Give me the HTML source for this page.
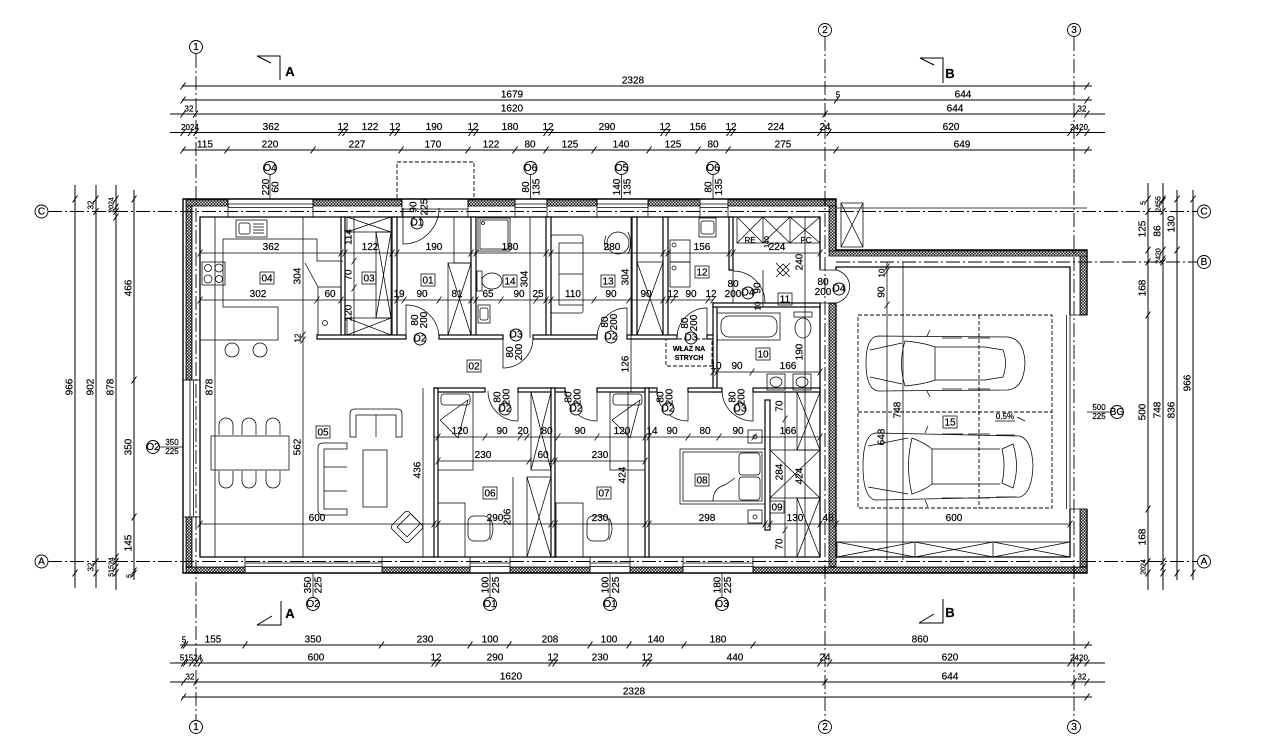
<!DOCTYPE html>
<html><head><meta charset="utf-8">
<style>
html,body{margin:0;padding:0;background:#fff;}
svg{display:block}
text{font-family:"Liberation Sans Narrow","Liberation Sans",sans-serif;font-size:10px;fill:#000;stroke:#000;stroke-width:.2;text-anchor:middle}
.s{font-size:8px}
.xs{font-size:7px}
.b{font-weight:bold}
.l{fill:none;stroke:#000;stroke-width:1}
.t{fill:none;stroke:#000;stroke-width:.75}
.ax{fill:none;stroke:#000;stroke-width:.9;stroke-dasharray:14 3 2 3}
.w{fill:#fff;stroke:#000;stroke-width:1.2}
.hb{fill:url(#h);stroke:#000;stroke-width:.8}
.d{fill:none;stroke:#000;stroke-width:.9;stroke-dasharray:4 2}
.c{fill:#fff;stroke:#000;stroke-width:.9}
</style></head><body>
<svg width="1280" height="737" viewBox="0 0 1280 737" xmlns="http://www.w3.org/2000/svg">
<defs>
<pattern id="h" width="3" height="3" patternUnits="userSpaceOnUse"><circle cx="1.5" cy="1.5" r="1" fill="none" stroke="#000" stroke-width=".7"/></pattern>
</defs>
<rect width="1280" height="737" fill="#fff"/>

<!-- ===== TOP DIMENSIONS ===== -->
<g class="l">
<path d="M182,86H1092M182,100H1092M170,114H1105M170,132.5H1105M182,150H1092"/>
<path d="M180.5,89.5l5,-7M1084.5,89.5l5,-7
M180.5,103.5l5,-7M834,103.5l5,-7M1084.5,103.5l5,-7
M180.5,117.5l5,-7M193,117.5l5,-7M822.5,117.5l5,-7M1073,117.5l5,-7M1084.5,117.5l5,-7
M180.5,136l5,-7M188,136l5,-7M193.5,136l5,-7M338.5,136l5,-7M342.5,136l5,-7M389.5,136l5,-7M394.5,136l5,-7M468.5,136l5,-7M473.5,136l5,-7M543.5,136l5,-7M548.5,136l5,-7M660.5,136l5,-7M665.5,136l5,-7M726.5,136l5,-7M730.5,136l5,-7M817.5,136l5,-7M826.5,136l5,-7M1067.5,136l5,-7M1076.5,136l5,-7M1084.5,136l5,-7
M180.5,153.5l5,-7M224.5,153.5l5,-7M310.5,153.5l5,-7M398.5,153.5l5,-7M465.5,153.5l5,-7M512.5,153.5l5,-7M543.5,153.5l5,-7M591.5,153.5l5,-7M646.5,153.5l5,-7M695.5,153.5l5,-7M725.5,153.5l5,-7M833.5,153.5l5,-7M1084.5,153.5l5,-7"/>
</g>
<text x="633" y="83.5">2328</text>
<text x="512" y="97.5">1679</text><text x="838" y="97.5" class="s">5</text><text x="963" y="97.5">644</text>
<text x="189" y="111.5" class="s">32</text><text x="512" y="111.5">1620</text><text x="955" y="111.5">644</text><text x="1082" y="111.5" class="s">32</text>
<text x="190" y="130" class="s">2024</text><text x="271" y="130">362</text><text x="343" y="130">12</text><text x="370" y="130">122</text><text x="395" y="130">12</text><text x="434" y="130">190</text><text x="473" y="130">12</text><text x="510" y="130">180</text><text x="548" y="130">12</text><text x="607" y="130">290</text><text x="665" y="130">12</text><text x="698" y="130">156</text><text x="731" y="130">12</text><text x="776" y="130">224</text><text x="825" y="130">24</text><text x="951" y="130">620</text><text x="1079" y="130" class="s">2420</text>
<text x="205" y="147.5">115</text><text x="270" y="147.5">220</text><text x="357" y="147.5">227</text><text x="433" y="147.5">170</text><text x="491" y="147.5">122</text><text x="530" y="147.5">80</text><text x="570" y="147.5">125</text><text x="621" y="147.5">140</text><text x="673" y="147.5">125</text><text x="713" y="147.5">80</text><text x="783" y="147.5">275</text><text x="962" y="147.5">649</text>

<!-- ===== BOTTOM DIMENSIONS ===== -->
<g class="l">
<path d="M180,645H1092M170,663H1105M170,682H1105M182,697H1092"/>
<path d="M181,648.5l5,-7M183,648.5l5,-7M242.5,648.5l5,-7M379,648.5l5,-7M467.5,648.5l5,-7M506.5,648.5l5,-7M587.5,648.5l5,-7M626.5,648.5l5,-7M681.5,648.5l5,-7M750.5,648.5l5,-7M1084.5,648.5l5,-7
M181,666.5l5,-7M183,666.5l5,-7M189,666.5l5,-7M193.5,666.5l5,-7M198,666.5l5,-7M431.5,666.5l5,-7M435.5,666.5l5,-7M548.5,666.5l5,-7M552.5,666.5l5,-7M642.5,666.5l5,-7M646.5,666.5l5,-7M817.5,666.5l5,-7M827,666.5l5,-7M1067.5,666.5l5,-7M1077,666.5l5,-7M1084.5,666.5l5,-7
M181,685.5l5,-7M193.5,685.5l5,-7M822.5,685.5l5,-7M1071.5,685.5l5,-7M1084.5,685.5l5,-7
M181,700.5l5,-7M1084.5,700.5l5,-7"/>
</g>
<text x="184" y="642.5" class="s">5</text><text x="213" y="642.5">155</text><text x="313" y="642.5">350</text><text x="425" y="642.5">230</text><text x="490" y="642.5">100</text><text x="550" y="642.5">208</text><text x="609" y="642.5">100</text><text x="656" y="642.5">140</text><text x="718" y="642.5">180</text><text x="920" y="642.5">860</text>
<text x="191" y="660.5" class="s">51524</text><text x="316" y="660.5">600</text><text x="436" y="660.5">12</text><text x="495" y="660.5">290</text><text x="553" y="660.5">12</text><text x="600" y="660.5">230</text><text x="647" y="660.5">12</text><text x="735" y="660.5">440</text><text x="825" y="660.5">24</text><text x="950" y="660.5">620</text><text x="1079" y="660.5" class="s">2420</text>
<text x="190" y="679.5" class="s">32</text><text x="511" y="679.5">1620</text><text x="950" y="679.5">644</text><text x="1082" y="679.5" class="s">32</text>
<text x="634" y="694.5">2328</text>

<!-- ===== LEFT DIMENSIONS ===== -->
<g class="l">
<path d="M75,185V588M96,185V588M116,185V590M134,190V580"/>
<path d="M72.5,202.5l5,-7M72.5,576.5l5,-7
M93.5,202.5l5,-7M93.5,215l5,-7M93.5,565l5,-7M93.5,576.5l5,-7
M113.5,202.5l5,-7M113.5,210.5l5,-7M113.5,215l5,-7M113.5,220.5l5,-7M113.5,560.5l5,-7M113.5,565l5,-7M113.5,570.5l5,-7M113.5,576.5l5,-7
M131.5,202.5l5,-7M131.5,383.5l5,-7M131.5,520.5l5,-7M131.5,574.5l5,-7M131.5,577l5,-7"/>
</g>
<text transform="translate(72.5,387) rotate(-90)">966</text>
<text transform="translate(93.5,205) rotate(-90)" class="s">32</text>
<text transform="translate(93.5,387) rotate(-90)">902</text>
<text transform="translate(93.5,567) rotate(-90)" class="s">32</text>
<text transform="translate(113.5,205) rotate(-90)" class="xs">2024</text>
<text transform="translate(113.5,387) rotate(-90)">878</text>
<text transform="translate(113.5,567) rotate(-90)" class="xs">51524</text>
<text transform="translate(131.5,288) rotate(-90)">466</text>
<text transform="translate(131.5,447) rotate(-90)">350</text>
<text transform="translate(131.5,543) rotate(-90)">145</text>
<text transform="translate(131.5,576) rotate(-90)" class="xs">5</text>

<!-- ===== RIGHT DIMENSIONS ===== -->
<g class="l">
<path d="M1148,183V590M1163,183V590M1177,190V580M1193,190V580"/>
<path d="M1145.5,202.5l5,-7M1145.5,215l5,-7M1145.5,253.5l5,-7M1145.5,265.5l5,-7M1145.5,318.5l5,-7M1145.5,512.5l5,-7M1145.5,565l5,-7M1145.5,576.5l5,-7
M1160.5,202.5l5,-7M1160.5,204.5l5,-7M1160.5,215l5,-7M1160.5,253.5l5,-7M1160.5,262.5l5,-7M1160.5,265.5l5,-7M1160.5,565l5,-7M1160.5,570.5l5,-7M1160.5,576.5l5,-7
M1174.5,202.5l5,-7M1174.5,253.5l5,-7M1174.5,576.5l5,-7
M1190.5,202.5l5,-7M1190.5,576.5l5,-7"/>
</g>
<text transform="translate(1145.5,203) rotate(-90)" class="xs">5</text>
<text transform="translate(1145.5,229) rotate(-90)">125</text>
<text transform="translate(1145.5,288) rotate(-90)">168</text>
<text transform="translate(1145.5,412) rotate(-90)">500</text>
<text transform="translate(1145.5,537) rotate(-90)">168</text>
<text transform="translate(1145.5,567) rotate(-90)" class="xs">2024</text>
<text transform="translate(1160.5,204) rotate(-90)" class="xs">2455</text>
<text transform="translate(1160.5,231) rotate(-90)">86</text>
<text transform="translate(1160.5,256) rotate(-90)" class="xs">2420</text>
<text transform="translate(1160.5,410) rotate(-90)">748</text>
<text transform="translate(1174.5,224) rotate(-90)">130</text>
<text transform="translate(1174.5,410) rotate(-90)">836</text>
<text transform="translate(1190.5,383) rotate(-90)">966</text>

<!-- ===== EXTERIOR WALLS ===== -->
<path d="M1087,315V250H836V199H183V573H1087V509" fill="none" stroke="#000" stroke-width="1.4"/>
<path d="M820,270V217H200V557H820V303" fill="none" stroke="#000" stroke-width="1.3"/>
<path d="M836,270V267H1070V315M1070,509V557H836V303" fill="none" stroke="#000" stroke-width="1.3"/>
<g class="hb">
<rect x="186" y="200" width="42" height="6"/>
<rect x="313" y="200" width="89" height="6"/>
<rect x="468" y="200" width="47" height="6"/>
<rect x="547" y="200" width="50" height="6"/>
<rect x="648" y="200" width="52" height="6"/>
<rect x="728" y="200" width="108" height="6"/>
<rect x="829" y="206" width="7" height="45"/>
<rect x="829" y="251" width="258" height="5"/>
<rect x="1080" y="256" width="7" height="59"/>
<rect x="1080" y="509" width="7" height="58"/>
<rect x="829" y="303" width="7" height="264"/>
<rect x="186" y="206" width="6" height="174"/>
<rect x="186" y="517" width="6" height="50"/>
<rect x="186" y="567" width="59" height="6"/>
<rect x="382" y="567" width="88" height="6"/>
<rect x="510" y="567" width="80" height="6"/>
<rect x="630" y="567" width="53" height="6"/>
<rect x="753" y="567" width="334" height="6"/>
</g>
<!-- windows / openings -->
<g class="t">
<path d="M228,199V217M313,199V217M228,204H313M228,207.5H313"/>
<path d="M515,199V217M547,199V217M515,204H547M515,207.5H547"/>
<path d="M597,199V217M648,199V217M597,204H648M597,207.5H648"/>
<path d="M700,199V217M728,199V217M700,204H728M700,207.5H728"/>
<path d="M402,199V217M468,199V217M402,209H468"/>
<path d="M183,380H200M183,517H200M190,380V517M193.5,380V517"/>
<path d="M245,557V573M382,557V573M245,563H382M245,566.5H382"/>
<path d="M470,557V573M510,557V573M470,563H510M470,566.5H510"/>
<path d="M590,557V573M630,557V573M590,563H630M590,566.5H630"/>
<path d="M683,557V573M753,557V573M683,563H753M683,566.5H753"/>
<path d="M1070,315H1087M1070,509H1087M1066.5,315V509M1070,315V509"/>
<path d="M820,270H836M820,303H836"/>
<path d="M836,208H1087"/>
</g>
<rect x="397" y="162" width="77" height="37" class="d"/>
<!-- chimney box -->
<rect x="841" y="203" width="22" height="44" class="t"/><path class="t" d="M841,203L863,247M863,203L841,247"/>

<!-- ===== INTERIOR WALLS ===== -->
<g class="w">
<rect x="341" y="217" width="4" height="121"/>
<rect x="392" y="217" width="5" height="121"/>
<rect x="471" y="217" width="5" height="121"/>
<rect x="546" y="217" width="5" height="121"/>
<rect x="632" y="217" width="5" height="121"/>
<rect x="663" y="217" width="5" height="121"/>
<rect x="729" y="217" width="4" height="53"/>
<rect x="317" y="335" width="89" height="4"/>
<rect x="439" y="335" width="64" height="4"/>
<rect x="533" y="335" width="64" height="4"/>
<rect x="627" y="335" width="50" height="4"/>
<rect x="707" y="335" width="10" height="4"/>
<rect x="713" y="303" width="4" height="89"/>
<rect x="713" y="303" width="107" height="4"/>
<rect x="434" y="388" width="51" height="4"/>
<rect x="518" y="388" width="47" height="4"/>
<rect x="597" y="388" width="60" height="4"/>
<rect x="688" y="388" width="34" height="4"/>
<rect x="753" y="388" width="67" height="4"/>
<rect x="434" y="388" width="4" height="169"/>
<rect x="551" y="388" width="4" height="169"/>
<rect x="645" y="388" width="4" height="169"/>
<rect x="765" y="400" width="5" height="130"/>
</g>

<!-- doors -->
<g class="t">
<path d="M403,208V244A36,36 0 0 0 439,208"/>
<path d="M406,338V305A33,33 0 0 1 439,338"/>
<path d="M503,338V368A30,30 0 0 0 533,338"/>
<path d="M627,338V308A30,30 0 0 0 597,338"/>
<path d="M707,338V308A30,30 0 0 0 677,338"/>
<path d="M733,303V271A32,32 0 0 1 765,303"/>
<path d="M836,270A18,17 0 0 1 836,303"/>
<path d="M518,391V421A30,30 0 0 1 488,391"/>
<path d="M597,391V421A31,31 0 0 1 566,391"/>
<path d="M688,391V421A31,31 0 0 1 657,391"/>
<path d="M753,391V421A31,31 0 0 1 722,391"/>
</g>

<!-- ===== FURNITURE ===== -->
<g class="t">
<!-- kitchen -->
<path d="M223,239H317V261H343M223,239V307H278V340H200"/>
<rect x="236" y="220" width="31" height="17"/>
<rect x="239" y="223" width="11" height="11" rx="2"/>
<path d="M253,224H264M253,227H264M253,230H264M253,233H264"/>
<rect x="202" y="262" width="23" height="23"/>
<circle cx="208" cy="268" r="3.5"/><circle cx="219" cy="268" r="4"/><circle cx="208" cy="279" r="4"/><circle cx="219" cy="279" r="3.5"/>
<circle cx="232" cy="350" r="7"/><circle cx="260" cy="350" r="7"/>
<path d="M305,263L318,287"/>
<rect x="318" y="287" width="23" height="48"/>
<circle cx="325" cy="323" r="2.5"/>
<!-- 03 -->
<rect x="347" y="217" width="44" height="15"/><path d="M347,217L391,232M391,217L347,232"/>
<rect x="376" y="232" width="15" height="86"/><path d="M376,232L391,318M391,232L376,318"/>
<rect x="347" y="318" width="44" height="17"/><path d="M347,318L391,335M391,318L347,335"/>
<!-- 01 column -->
<rect x="454" y="217" width="17" height="46"/>
<rect x="448" y="263" width="23" height="72"/><path d="M448,263L471,335M471,263L448,335"/>
<!-- 14 -->
<rect x="478" y="218" width="32" height="33"/><rect x="480" y="220" width="28" height="29"/><circle cx="483" cy="223" r="1.5"/>
<rect x="477" y="271" width="5" height="20"/><ellipse cx="492" cy="281" rx="10" ry="8"/>
<rect x="478" y="305" width="12" height="18"/><rect x="480" y="308" width="8" height="12" rx="2"/>
<!-- 13 -->
<rect x="551" y="235" width="32" height="78" rx="2"/><path d="M559,243V305M559,243H583M559,305H583M559,274H583"/>
<circle cx="618" cy="243" r="11"/><path d="M606,236Q603,243 606,250M628,232Q633,243 628,254"/>
<!-- wardrobe 13 -->
<rect x="637" y="262" width="26" height="73"/><path d="M637,262L663,335M663,262L637,335"/>
<!-- 12 -->
<rect x="699" y="218" width="17" height="19"/><rect x="701" y="221" width="13" height="13" rx="2"/>
<rect x="670" y="240" width="20" height="22"/><rect x="670" y="262" width="20" height="25"/>
<circle cx="674" cy="245" r="2"/><circle cx="674" cy="268" r="2"/>
<!-- 11 -->
<rect x="737" y="217" width="83" height="26"/>
<path d="M763,217V243M790,217V243M737,217L763,243M763,217L737,243M763,217L790,243M790,217L763,243M790,217L820,243M820,217L790,243"/>
<path d="M783,264L789,270L783,276L777,270Z M776,263L790,277M790,263L776,277"/>
<!-- 10 -->
<rect x="717" y="313" width="63" height="27"/><rect x="721" y="316" width="56" height="21" rx="8"/>
<rect x="794" y="312" width="18" height="5"/><ellipse cx="803" cy="328" rx="8" ry="10"/>
<rect x="767" y="374" width="18" height="16"/><ellipse cx="776" cy="382" rx="6" ry="5"/>
<rect x="793" y="374" width="18" height="16"/><ellipse cx="802" cy="382" rx="6" ry="5"/>
<!-- dining -->
<rect x="211" y="436" width="78" height="34"/>
<path d="M219,435V425A7,7 0 0 1 233,425V435M242,435V425A7,7 0 0 1 256,425V435M266,435V425A7,7 0 0 1 280,425V435"/>
<path d="M219,471V481A7,7 0 0 0 233,481V471M242,471V481A7,7 0 0 0 256,481V471M266,471V481A7,7 0 0 0 280,481V471"/>
<!-- living -->
<path d="M350,437V414Q350,409 355,409H397Q402,409 402,414V437H396V415H356V437Z"/><path d="M376,415V437"/>
<path d="M347,443H323Q318,443 318,448V510Q318,515 323,515H347V509H324V449H347Z"/><path d="M324,467H347M324,491H347"/>
<rect x="363" y="450" width="24" height="57"/>
<g transform="translate(407,527) rotate(45)"><rect x="-12" y="-12" width="24" height="24" rx="3"/><rect x="-7" y="-12" width="14" height="19"/></g>
<!-- 06 -->
<rect x="438" y="392" width="35" height="78"/><rect x="441" y="394" width="29" height="11" rx="3"/>
<path d="M440,420L468,400L458,438M440,420L458,438"/>
<rect x="438" y="503" width="27" height="54"/>
<rect x="468" y="516" width="22" height="25" rx="6"/><path d="M490,518Q496,528 490,540"/>
<!-- wardrobes 06/07 -->
<rect x="531" y="392" width="20" height="78"/><path d="M531,392L551,470M551,392L531,470"/>
<rect x="527" y="477" width="24" height="80"/><path d="M527,477L551,557M551,477L527,557"/>
<!-- 07 -->
<rect x="610" y="392" width="35" height="78"/><rect x="613" y="394" width="29" height="11" rx="3"/>
<path d="M612,420L640,400L630,438M612,420L630,438"/>
<rect x="556" y="503" width="27" height="54"/>
<rect x="587" y="516" width="22" height="25" rx="6"/><path d="M609,518Q615,528 609,540"/>
<!-- 08 -->
<rect x="680" y="449" width="85" height="55"/><rect x="683" y="452" width="79" height="49"/>
<rect x="739" y="453" width="21" height="22" rx="3"/><rect x="739" y="477" width="21" height="23" rx="3"/>
<path d="M713,501Q713,488 725,485L735,478"/>
<rect x="748" y="430" width="14" height="13"/><circle cx="755" cy="437" r="2"/>
<rect x="748" y="510" width="14" height="13"/><circle cx="755" cy="517" r="2"/>
<!-- 09 -->
<rect x="797" y="392" width="23" height="58"/><path d="M797,392L820,450M820,392L797,450"/>
<rect x="770" y="450" width="50" height="48"/><path d="M770,450L820,498M820,450L770,498"/>
<rect x="797" y="498" width="23" height="59"/><path d="M797,498L820,557M820,498L797,557"/>
<!-- garage strip -->
<rect x="837" y="542" width="233" height="15"/>
<path d="M915,542V557M993,542V557M837,542L915,557M915,542L837,557M915,542L993,557M993,542L915,557M993,542L1070,557M1070,542L993,557"/>
<!-- car 1 -->
<path d="M878,336L1008,337Q1024,339 1025,363Q1024,388 1008,390L878,391Q866,389 866,363Q866,337 878,336Z"/>
<path d="M905,341Q925,343 935,347L935,380Q925,384 905,386Q898,363 905,341Z"/>
<path d="M935,347H985M935,380H985M985,347L1003,350Q1008,363 1003,377L985,380"/>
<path d="M870,350L902,343M870,377L902,384M927,336L930,330M927,391L930,397"/>
<path d="M942,338H962M968,338H990M942,389H962M968,389H990"/>
<!-- car 2 -->
<path d="M875,433L1020,436Q1032,440 1033,466Q1032,493 1020,497L875,500Q863,497 863,466Q863,436 875,433Z"/>
<path d="M912,438Q925,443 932,449L932,484Q925,490 912,494Q905,466 912,438Z"/>
<path d="M932,449H1000M932,484H1000M1013,444Q1020,466 1013,488L1002,483Q1006,466 1002,449Z"/>
<path d="M868,446L908,438M868,487L908,494M925,433L928,426M925,500L928,507"/>
<path d="M942,434H963M968,434H990M996,435H1015M942,498H963M968,498H990M996,497H1015"/>
<path d="M1017,417L1025,421"/>
</g>
<!-- garage floor dashed -->
<path class="d" d="M858,315H1052V508H858ZM858,412H1052M979,315V508"/>
<rect x="666" y="339" width="46" height="27" class="d"/>
<text x="689" y="351" class="xs b">WŁAZ NA</text>
<text x="689" y="360" class="xs b">STRYCH</text>
<text x="1005" y="419" class="s">0.5%</text>
<path class="t" d="M995,421H1015"/>

<!-- ===== INTERIOR DIMENSIONS ===== -->
<g class="t">
<path d="M200,253H820M200,300H713M713,372H820M434,437H820M438,461H645M200,524H1070"/>
<path d="M215,217V557M303,217V557M354,217V335M530,217V338M631,217V392M763,270V307M805,217V392M423,388V557M513,477V557M628,392V557M785,392V557M805,392V557M887,262V560M903,262V560"/>
<path d="M197.5,256.5l5,-7M338.5,256.5l5,-7M342.5,256.5l5,-7M389.5,256.5l5,-7M394.5,256.5l5,-7M468.5,256.5l5,-7M473.5,256.5l5,-7M543.5,256.5l5,-7M548.5,256.5l5,-7M660.5,256.5l5,-7M665.5,256.5l5,-7M726.5,256.5l5,-7M730.5,256.5l5,-7M817.5,256.5l5,-7
M197.5,303.5l5,-7M314.5,303.5l5,-7M338.5,303.5l5,-7M394.5,303.5l5,-7M401.5,303.5l5,-7M436.5,303.5l5,-7M468.5,303.5l5,-7M473.5,303.5l5,-7M498.5,303.5l5,-7M533.5,303.5l5,-7M543.5,303.5l5,-7M548.5,303.5l5,-7M591.5,303.5l5,-7M626.5,303.5l5,-7M660.5,303.5l5,-7M665.5,303.5l5,-7M670.5,303.5l5,-7M705.5,303.5l5,-7M710.5,303.5l5,-7
M710.5,375.5l5,-7M714.5,375.5l5,-7M749.5,375.5l5,-7M817.5,375.5l5,-7
M435.5,440.5l5,-7M482.5,440.5l5,-7M517.5,440.5l5,-7M524.5,440.5l5,-7M555.5,440.5l5,-7M594.5,440.5l5,-7M642.5,440.5l5,-7M646.5,440.5l5,-7M685.5,440.5l5,-7M716.5,440.5l5,-7M751.5,440.5l5,-7M817.5,440.5l5,-7
M435.5,464.5l5,-7M526.5,464.5l5,-7M549.5,464.5l5,-7M552.5,464.5l5,-7M642.5,464.5l5,-7
M197.5,527.5l5,-7M431.5,527.5l5,-7M435.5,527.5l5,-7M548.5,527.5l5,-7M552.5,527.5l5,-7M642.5,527.5l5,-7M646.5,527.5l5,-7M762.5,527.5l5,-7M767.5,527.5l5,-7M817.5,527.5l5,-7M833.5,527.5l5,-7M1067.5,527.5l5,-7
M351.5,264.5l5,-7M351.5,291.5l5,-7M300.5,338.5l5,-7M300.5,343.5l5,-7M884.5,270.5l5,-7M884.5,274.5l5,-7M884.5,308.5l5,-7M782.5,422.5l5,-7M782.5,533.5l5,-7"/>
</g>
<text x="271" y="250">362</text><text x="370" y="250">122</text><text x="434" y="250">190</text><text x="510" y="250">180</text><text x="612" y="250">280</text><text x="702" y="250">156</text><text x="777" y="250">224</text>
<text x="258" y="297">302</text><text x="330" y="297">60</text><text x="399" y="297">19</text><text x="422" y="297">90</text><text x="457" y="297">81</text><text x="488" y="297">65</text><text x="519" y="297">90</text><text x="538" y="297">25</text><text x="573" y="297">110</text><text x="611" y="297">90</text><text x="646" y="297">90</text><text x="673" y="297">12</text><text x="691" y="297">90</text><text x="711" y="297">12</text>
<text x="716" y="369">10</text><text x="737" y="369">90</text><text x="788" y="369">166</text>
<text x="460" y="434">120</text><text x="502" y="434">90</text><text x="523" y="434">20</text><text x="547" y="434">80</text><text x="580" y="434">90</text><text x="622" y="434">120</text><text x="652" y="434">14</text><text x="672" y="434">90</text><text x="705" y="434">80</text><text x="738" y="434">90</text><text x="788" y="434">166</text>
<text x="483" y="458">230</text><text x="543" y="458">60</text><text x="600" y="458">230</text>
<text x="317" y="521">600</text><text x="495" y="521">290</text><text x="600" y="521">230</text><text x="707" y="521">298</text><text x="795" y="521">130</text><text x="828" y="521">48</text><text x="954" y="521">600</text>
<text transform="translate(769,242) rotate(-90)" class="xs">140</text>
<text x="750" y="243" class="s">RE</text><text x="806" y="243" class="s">PC</text>
<text transform="translate(300.5,276) rotate(-90)">304</text>
<text transform="translate(300.5,338) rotate(-90)" class="s">12</text>
<text transform="translate(300.5,447) rotate(-90)">562</text>
<text transform="translate(212.5,387) rotate(-90)">878</text>
<text transform="translate(351.5,237) rotate(-90)">114</text>
<text transform="translate(351.5,275) rotate(-90)">70</text>
<text transform="translate(351.5,313) rotate(-90)">120</text>
<text transform="translate(527.5,279) rotate(-90)">304</text>
<text transform="translate(628.5,277) rotate(-90)">304</text>
<text transform="translate(628.5,364) rotate(-90)">126</text>
<text transform="translate(760.5,288) rotate(-90)">90</text>
<text transform="translate(760.5,306) rotate(-90)" class="s">10</text>
<text transform="translate(802.5,262) rotate(-90)">240</text>
<text transform="translate(802.5,352) rotate(-90)">190</text>
<text transform="translate(420.5,470) rotate(-90)">436</text>
<text transform="translate(510.5,517) rotate(-90)">206</text>
<text transform="translate(625.5,475) rotate(-90)">424</text>
<text transform="translate(782.5,406) rotate(-90)">70</text>
<text transform="translate(782.5,472) rotate(-90)">284</text>
<text transform="translate(782.5,544) rotate(-90)">70</text>
<text transform="translate(802.5,476) rotate(-90)">424</text>
<text transform="translate(884.5,292) rotate(-90)">90</text>
<text transform="translate(884.5,273) rotate(-90)" class="s">10</text>
<text transform="translate(884.5,437) rotate(-90)">648</text>
<text transform="translate(900.5,410) rotate(-90)">748</text>

<!-- ===== ROOM LABELS ===== -->
<g class="t">
<rect x="260" y="272" width="14" height="12"/><rect x="362" y="272" width="14" height="12"/><rect x="421" y="274" width="14" height="12"/><rect x="503" y="275" width="14" height="12"/><rect x="601" y="275" width="14" height="12"/><rect x="695" y="266" width="14" height="12"/><rect x="778" y="293" width="14" height="12"/><rect x="467" y="360" width="14" height="12"/><rect x="756" y="348" width="14" height="12"/><rect x="316" y="426" width="14" height="12"/><rect x="483" y="487" width="14" height="12"/><rect x="597" y="487" width="14" height="12"/><rect x="695" y="474" width="14" height="12"/><rect x="770" y="501" width="14" height="12"/><rect x="943" y="416" width="14" height="12"/>
</g>
<text x="267" y="281.5">04</text><text x="369" y="281.5">03</text><text x="428" y="283.5">01</text><text x="510" y="284.5">14</text><text x="608" y="284.5">13</text><text x="702" y="275.5">12</text><text x="785" y="302.5">11</text><text x="474" y="369.5">02</text><text x="763" y="357.5">10</text><text x="323" y="435.5">05</text><text x="490" y="496.5">06</text><text x="604" y="496.5">07</text><text x="702" y="483.5">08</text><text x="777" y="510.5">09</text><text x="950" y="425.5">15</text>

<!-- ===== DOOR TAGS ===== -->
<g class="c">
<circle cx="417" cy="223" r="6"/><circle cx="420" cy="339" r="6"/><circle cx="516" cy="335" r="6"/><circle cx="611" cy="337" r="6"/><circle cx="691" cy="338" r="6"/><circle cx="748" cy="293" r="6"/><circle cx="839" cy="289" r="6"/><circle cx="505" cy="409" r="6"/><circle cx="576" cy="409" r="6"/><circle cx="668" cy="409" r="6"/><circle cx="740" cy="409" r="6"/>
</g>
<g class="xs">
<text x="417" y="225.5">D1</text><text x="420" y="341.5">D2</text><text x="516" y="337.5">D3</text><text x="611" y="339.5">D2</text><text x="691" y="340.5">D3</text><text x="748" y="295.5">D4</text><text x="839" y="291.5">D4</text><text x="505" y="411.5">D2</text><text x="576" y="411.5">D2</text><text x="668" y="411.5">D2</text><text x="740" y="411.5">D3</text>
</g>
<g class="s">
<text transform="translate(416.5,207) rotate(-90)">90</text><text transform="translate(427.5,207) rotate(-90)">225</text>
<text transform="translate(418,320) rotate(-90)">80</text><text transform="translate(427,320) rotate(-90)">200</text>
<text transform="translate(513,352) rotate(-90)">80</text><text transform="translate(522,352) rotate(-90)">200</text>
<text transform="translate(608,322) rotate(-90)">80</text><text transform="translate(617,322) rotate(-90)">200</text>
<text transform="translate(688,323) rotate(-90)">80</text><text transform="translate(697,323) rotate(-90)">200</text>
<text transform="translate(500.5,397) rotate(-90)">80</text><text transform="translate(509.5,397) rotate(-90)">200</text>
<text transform="translate(571.5,397) rotate(-90)">80</text><text transform="translate(580.5,397) rotate(-90)">200</text>
<text transform="translate(663.5,397) rotate(-90)">80</text><text transform="translate(672.5,397) rotate(-90)">200</text>
<text transform="translate(735.5,397) rotate(-90)">80</text><text transform="translate(744.5,397) rotate(-90)">200</text>
</g>
<text x="733" y="287">80</text><text x="733" y="297">200</text>
<text x="823" y="285">80</text><text x="823" y="295">200</text>

<!-- ===== WINDOW TAGS ===== -->
<path class="t" d="M270,174.5V199M530.5,174.5V199M621.5,174.5V199M713,174.5V199M313,573V597.5M490,573V597.5M610,573V597.5M722,573V597.5M159.5,447H183M1087,412H1110.5"/>
<g class="c">
<circle cx="270" cy="168" r="6.5"/><circle cx="530.5" cy="168" r="6.5"/><circle cx="621.5" cy="168" r="6.5"/><circle cx="713" cy="168" r="6.5"/>
<circle cx="313" cy="604" r="6.5"/><circle cx="490" cy="604" r="6.5"/><circle cx="610" cy="604" r="6.5"/><circle cx="722" cy="604" r="6.5"/>
<circle cx="153" cy="447" r="6.5"/><circle cx="1117" cy="412" r="6.5"/>
</g>
<g class="s">
<text x="270" y="171">O4</text><text x="530.5" y="171">O6</text><text x="621.5" y="171">O5</text><text x="713" y="171">O6</text>
<text x="313" y="607">O2</text><text x="490" y="607">O1</text><text x="610" y="607">O1</text><text x="722" y="607">O3</text>
<text x="153" y="450">O2</text><text x="1117" y="415">BG</text>
</g>
<g class="s">
<text transform="translate(269,187) rotate(-90)">220</text><text transform="translate(278.5,187) rotate(-90)">60</text>
<text transform="translate(529,187) rotate(-90)">80</text><text transform="translate(539.5,187) rotate(-90)">135</text>
<text transform="translate(620,187) rotate(-90)">140</text><text transform="translate(630.5,187) rotate(-90)">135</text>
<text transform="translate(711.5,187) rotate(-90)">80</text><text transform="translate(722,187) rotate(-90)">135</text>
<text transform="translate(311,585) rotate(-90)">350</text><text transform="translate(321.5,585) rotate(-90)">225</text>
<text transform="translate(488.5,585) rotate(-90)">100</text><text transform="translate(499,585) rotate(-90)">225</text>
<text transform="translate(608.5,585) rotate(-90)">100</text><text transform="translate(619,585) rotate(-90)">225</text>
<text transform="translate(720.5,585) rotate(-90)">180</text><text transform="translate(731,585) rotate(-90)">225</text>
</g>
<text x="172" y="445" class="s">350</text><text x="172" y="454" class="s">225</text>
<text x="1099" y="410" class="s">500</text><text x="1099" y="419" class="s">225</text>

<!-- ===== SECTION MARKERS ===== -->
<path class="l" d="M257,56H280V80M257,56L271,63"/>
<text x="290" y="76" class="b" style="font-size:13px">A</text>
<path class="l" d="M920,58H943V83M920,58L934,65"/>
<text x="950" y="78" class="b" style="font-size:13px">B</text>
<path class="l" d="M257,625H281V601M257,625L272,616"/>
<text x="290" y="618" class="b" style="font-size:13px">A</text>
<path class="l" d="M919,623H943V599M919,623L934,614"/>
<text x="950" y="617" class="b" style="font-size:13px">B</text>

<!-- ===== AXES ===== -->
<path class="ax" d="M196,54V720M825,37V720M1074,37V720M48,211.5H1197M836,262H1197M48,561.5H1197"/>
<g class="c">
<circle cx="196" cy="47" r="6.5"/><circle cx="825" cy="30" r="6.5"/><circle cx="1074" cy="30" r="6.5"/>
<circle cx="196" cy="727" r="6.5"/><circle cx="825" cy="727" r="6.5"/><circle cx="1074" cy="727" r="6.5"/>
<circle cx="41.5" cy="211.5" r="6.5"/><circle cx="41.5" cy="561.5" r="6.5"/>
<circle cx="1204" cy="211.5" r="6.5"/><circle cx="1204" cy="262" r="6.5"/><circle cx="1204" cy="561.5" r="6.5"/>
</g>
<g style="font-size:9px">
<text x="196" y="50">1</text><text x="825" y="33">2</text><text x="1074" y="33">3</text>
<text x="196" y="730">1</text><text x="825" y="730">2</text><text x="1074" y="730">3</text>
<text x="41.5" y="214.5">C</text><text x="41.5" y="564.5">A</text>
<text x="1204" y="214.5">C</text><text x="1204" y="265">B</text><text x="1204" y="564.5">A</text>
</g>
</svg>
</body></html>
